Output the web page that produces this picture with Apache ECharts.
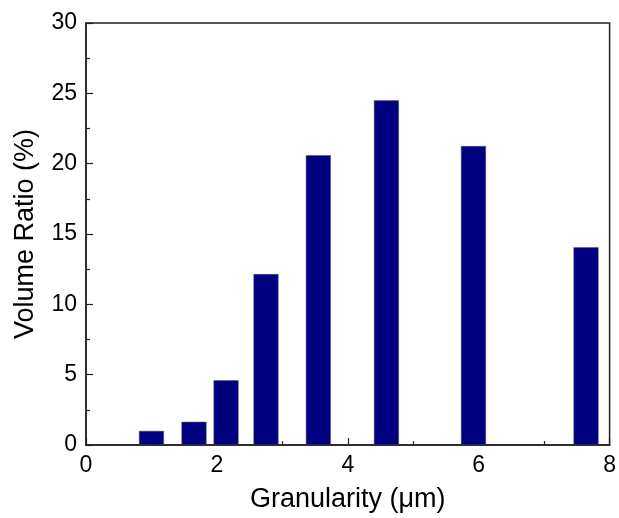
<!DOCTYPE html>
<html>
<head>
<meta charset="utf-8">
<script src="https://cdn.jsdelivr.net/npm/echarts@6/dist/echarts.min.js"></script>
<style>html,body{margin:0;padding:0;background:#fff;}#c{width:619px;height:518px;}</style>
</head>
<body>
<div id="c"></div>
<script>
var granularity = [1.0, 1.65, 2.14, 2.75, 3.55, 4.59, 5.92, 7.64];
var volumeRatio = [1.0, 1.65, 4.6, 12.15, 20.6, 24.5, 21.25, 14.05];
var xTicks = [0, 2, 4, 6, 8];
var yTicks = [0, 5, 10, 15, 20, 25, 30];

var font = '"Liberation Sans", Arial, sans-serif';
var chart = echarts.init(document.getElementById('c'), null, {renderer: 'canvas'});
chart.setOption({
  animation: false,
  grid: {left: 86, top: 23, right: 8, bottom: 71, show: true, borderColor: '#222', borderWidth: 1.5, backgroundColor: 'transparent'},
  xAxis: {
    type: 'value', min: xTicks[0], max: xTicks[xTicks.length - 1], interval: 2,
    name: 'Granularity (μm)', nameLocation: 'middle', nameGap: 41,
    nameTextStyle: {fontFamily: font, fontSize: 27, color: '#000'},
    axisLine: {show: true, onZero: false, lineStyle: {color: '#222', width: 1.5}},
    axisTick: {show: true, inside: true, length: 7, lineStyle: {color: '#222', width: 1.2}},
    minorTick: {show: true, splitNumber: 2, length: 4, lineStyle: {color: '#222', width: 1.2}},
    axisLabel: {fontFamily: font, fontSize: 23, color: '#000', margin: 9},
    splitLine: {show: false}
  },
  yAxis: {
    type: 'value', min: yTicks[0], max: yTicks[yTicks.length - 1], interval: 5,
    name: 'Volume Ratio (%)', nameLocation: 'middle', nameGap: 47,
    nameTextStyle: {fontFamily: font, fontSize: 27, color: '#000'},
    axisLine: {show: true, lineStyle: {color: '#222', width: 1.5}},
    axisTick: {show: true, inside: true, length: 7, lineStyle: {color: '#222', width: 1.2}},
    minorTick: {show: true, splitNumber: 2, length: 4, lineStyle: {color: '#222', width: 1.2}},
    axisLabel: {fontFamily: font, fontSize: 23, color: '#000', margin: 9},
    splitLine: {show: false}
  },
  series: [{
    type: 'bar',
    barWidth: 25,
    data: granularity.map(function (g, i) { return [g, volumeRatio[i]]; }),
    itemStyle: {color: '#000080', borderColor: '#555', borderWidth: 0.5}
  }]
});
</script>
</body>
</html>
